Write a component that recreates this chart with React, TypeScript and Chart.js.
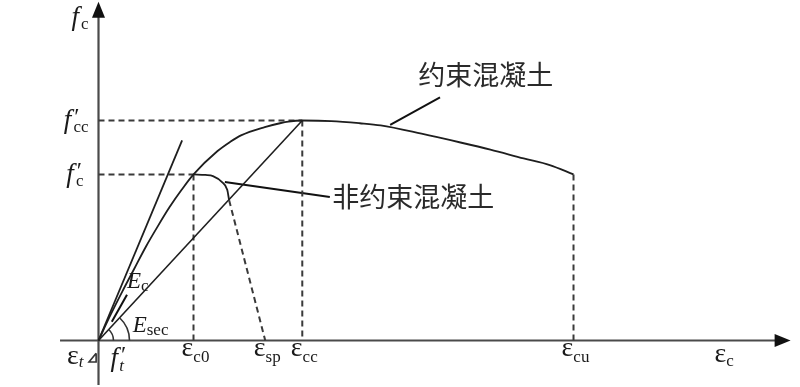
import React, { useEffect, useRef } from "react";
import { Chart, registerables } from "chart.js";

Chart.register(...registerables);

// ---- data (strain in ‰, stress in MPa) ----
const confinedStrain = [0, 0.25, 0.5, 0.75, 1.0, 1.25, 1.5, 1.75, 2.0, 2.5, 2.77, 3.0, 3.5, 3.82, 4.0, 4.29, 4.9, 5.5, 5.94, 6.8, 7.62, 8.25, 8.95, 9.5, 10.0];
const confinedStress = [0, 4.6, 8.9, 13.0, 17.1, 20.8, 24.3, 27.4, 30.2, 34.4, 36.1, 37.3, 38.8, 39.5, 39.8, 40.0, 39.9, 39.5, 39.1, 37.6, 36.0, 34.7, 33.1, 31.9, 30.2];

const unconfinedStrain = [2.0, 2.25, 2.41, 2.6, 2.71, 2.75];
const unconfinedStress = [30.2, 30.1, 29.9, 28.8, 27.4, 25.5];
const spallingStrain = [2.75, 3.51];
const spallingStress = [25.5, 0];

const tangentStrain = [0, 1.76];
const tangentStress = [0, 36.4];
const secantStrain = [0, 4.29];
const secantStress = [0, 40.0];

const tensionStrain = [-0.05, -0.2, -0.05, -0.05];
const tensionStress = [-2.3, -3.9, -3.9, -2.3];

// key values
const epsC0 = 2.0;
const epsSp = 3.51;
const epsCc = 4.29;
const epsCu = 10.0;
const fcPrime = 30.2;
const fccPrime = 40.0;
const fcuEnd = 30.2;

// tick labels
const xTickValues = [epsC0, epsSp, epsCc, epsCu];
const xTickSubs = ["c0", "sp", "cc", "cu"];
const yTickValues = [fccPrime, fcPrime];
const yTickSubs = ["cc", "c"];

// leader lines
const confinedLeaderStrain = [6.14, 7.19];
const confinedLeaderStress = [39.2, 44.2];
const unconfinedLeaderStrain = [2.66, 4.87];
const unconfinedLeaderStress = [28.8, 26.1];
const ecLeaderStrain = [0.28, 0.6];
const ecLeaderStress = [3.4, 8.3];

// annotation texts
const confinedLabel = "约束混凝土";
const unconfinedLabel = "非约束混凝土";

const pts = (xs: number[], ys: number[]) => xs.map((x, i) => ({ x, y: ys[i] }));

const SERIF = '"Liberation Serif", "DejaVu Serif", serif';
const CJK = '"Noto Sans CJK SC", "Noto Sans", sans-serif';

type Part = { t: string; size: number; italic?: boolean; dy?: number; dx?: number };

function drawRich(ctx: CanvasRenderingContext2D, parts: Part[], x: number, y: number, align: "left" | "center" | "right") {
  const fontOf = (p: Part) => `${p.italic ? "italic " : ""}${p.size}px ${SERIF}`;
  const widths = parts.map((p) => {
    ctx.font = fontOf(p);
    return ctx.measureText(p.t).width + (p.dx || 0);
  });
  const total = widths.reduce((a, b) => a + b, 0);
  let cur = align === "left" ? x : align === "center" ? x - total / 2 : x - total;
  ctx.textAlign = "left";
  ctx.textBaseline = "alphabetic";
  parts.forEach((p, i) => {
    ctx.font = fontOf(p);
    ctx.fillText(p.t, cur + (p.dx || 0), y + (p.dy || 0));
    cur += widths[i];
  });
}

const annotationPlugin = {
  id: "annot",
  beforeDatasetsDraw(chart: any) {
    const ctx: CanvasRenderingContext2D = chart.ctx;
    const xs = chart.scales.x;
    const ys = chart.scales.y;
    const ox = xs.getPixelForValue(0);
    const oy = ys.getPixelForValue(0);
    ctx.save();
    ctx.strokeStyle = "#4a4a4a";
    ctx.fillStyle = "#111";
    ctx.lineWidth = 2.2;
    // x axis
    const xl = xs.getPixelForValue(-0.81);
    const xr = xs.getPixelForValue(14.57);
    ctx.beginPath();
    ctx.moveTo(xl, oy);
    ctx.lineTo(xr - 10, oy);
    ctx.stroke();
    ctx.beginPath();
    ctx.moveTo(xr, oy);
    ctx.lineTo(xr - 16, oy - 6.5);
    ctx.lineTo(xr - 16, oy + 6.5);
    ctx.closePath();
    ctx.fill();
    // y axis
    const yb = ys.getPixelForValue(-8.1);
    const yt = ys.getPixelForValue(61.6);
    ctx.beginPath();
    ctx.moveTo(ox, yb);
    ctx.lineTo(ox, yt + 10);
    ctx.stroke();
    ctx.beginPath();
    ctx.moveTo(ox, yt);
    ctx.lineTo(ox - 6.5, yt + 16);
    ctx.lineTo(ox + 6.5, yt + 16);
    ctx.closePath();
    ctx.fill();
    ctx.restore();
  },
  afterDatasetsDraw(chart: any) {
    const ctx: CanvasRenderingContext2D = chart.ctx;
    const xs = chart.scales.x;
    const ys = chart.scales.y;
    const ox = xs.getPixelForValue(0);
    const oy = ys.getPixelForValue(0);
    ctx.save();
    // angle arcs between x axis and secant
    const sx = xs.getPixelForValue(secantStrain[1]) - ox;
    const sy = ys.getPixelForValue(secantStress[1]) - oy;
    const ang = Math.atan2(sy, sx);
    ctx.strokeStyle = "#333";
    ctx.lineWidth = 1.6;
    [15, 31].forEach((r) => {
      ctx.beginPath();
      ctx.arc(ox, oy, r, ang, 0);
      ctx.stroke();
    });

    ctx.fillStyle = "#1a1a1a";
    const EPS = 28;
    const SUB = 17;
    const FS = 27;
    const prime = (): Part => ({ t: "′", size: 24, dy: -4, dx: 3 });
    // x tick labels
    xTickValues.forEach((v, i) => {
      const px = xs.getPixelForValue(v) + 2;
      drawRich(ctx, [{ t: "ε", size: EPS }, { t: xTickSubs[i], size: SUB, dy: 6 }], px, oy + 16, "center");
    });
    // axis label εc
    drawRich(ctx, [{ t: "ε", size: EPS }, { t: "c", size: SUB, dy: 4 }], xs.getPixelForValue(13.17), oy + 22, "center");
    // εt and f't
    drawRich(ctx, [{ t: "ε", size: EPS }, { t: "t", size: SUB, italic: true, dy: 3 }], ox - 15, oy + 24, "right");
    drawRich(ctx, [{ t: "f", size: FS, italic: true }, prime(), { t: "t", size: SUB, italic: true, dy: 5, dx: -7 }], ox + 12, oy + 26, "left");
    // y tick labels
    yTickValues.forEach((v, i) => {
      const py = ys.getPixelForValue(v);
      drawRich(ctx, [{ t: "f", size: FS, italic: true }, prime(), { t: yTickSubs[i], size: SUB, dy: 4, dx: -6 }], ox - (i === 0 ? 10 : 15), py + 8, "right");
    });
    // axis label fc
    drawRich(ctx, [{ t: "f", size: FS, italic: true }, { t: "c", size: SUB, dy: 4, dx: 2 }], ox - 10, ys.getPixelForValue(57.4), "right");
    // Ec and Esec
    drawRich(ctx, [{ t: "E", size: 23, italic: true }, { t: "c", size: SUB, dy: 3 }], xs.getPixelForValue(0.6), ys.getPixelForValue(9.5), "left");
    drawRich(ctx, [{ t: "E", size: 23, italic: true }, { t: "sec", size: SUB, dy: 3 }], xs.getPixelForValue(0.72), ys.getPixelForValue(1.5), "left");
    // Chinese labels
    ctx.font = `27px ${CJK}`;
    ctx.textAlign = "left";
    ctx.textBaseline = "middle";
    ctx.fillStyle = "#2a2a2a";
    ctx.fillText(confinedLabel, xs.getPixelForValue(6.73), ys.getPixelForValue(48.3));
    ctx.fillText(unconfinedLabel, xs.getPixelForValue(4.92), ys.getPixelForValue(26.1));
    ctx.restore();
  },
};

export default function App() {
  const ref = useRef<HTMLCanvasElement | null>(null);
  useEffect(() => {
    if (!ref.current) return;
    const solid = (data: any[], extra: any = {}) => ({
      data,
      showLine: true,
      pointRadius: 0,
      borderColor: "#1e1e1e",
      borderWidth: 1.8,
      fill: false,
      ...extra,
    });
    const dashed = (data: any[]) => solid(data, { borderColor: "#3a3a3a", borderWidth: 2, borderDash: [6, 4] });
    const chart = new Chart(ref.current, {
      type: "scatter",
      data: {
        datasets: [
          solid(pts(confinedStrain, confinedStress), { cubicInterpolationMode: "monotone" }),
          solid(pts(unconfinedStrain, unconfinedStress), { cubicInterpolationMode: "monotone" }),
          dashed(pts(spallingStrain, spallingStress)),
          solid(pts(tangentStrain, tangentStress)),
          solid(pts(secantStrain, secantStress), { borderWidth: 1.6 }),
          dashed(pts([0, epsCc], [fccPrime, fccPrime])),
          dashed(pts([epsCc, epsCc], [fccPrime, 0])),
          dashed(pts([0, epsC0], [fcPrime, fcPrime])),
          dashed(pts([epsC0, epsC0], [fcPrime, 0])),
          dashed(pts([epsCu, epsCu], [fcuEnd, 0])),
          solid(pts(confinedLeaderStrain, confinedLeaderStress), { borderColor: "#111", borderWidth: 2 }),
          solid(pts(unconfinedLeaderStrain, unconfinedLeaderStress), { borderColor: "#111", borderWidth: 2 }),
          solid(pts(ecLeaderStrain, ecLeaderStress), { borderColor: "#111", borderWidth: 2 }),
          solid(pts(tensionStrain, tensionStress), { borderColor: "#333", borderWidth: 1.6 }),
        ],
      },
      options: {
        animation: false,
        responsive: false,
        layout: { padding: 0 },
        plugins: { legend: { display: false }, tooltip: { enabled: false } },
        events: [],
        scales: {
          x: { type: "linear", display: false, min: -2.0737, max: 14.768, bounds: "data" },
          y: { type: "linear", display: false, min: -8.455, max: 61.909, bounds: "data" },
        },
      },
      plugins: [annotationPlugin],
    } as any);
    return () => chart.destroy();
  }, []);
  return (
    <div style={{ position: "fixed", left: 0, top: 0, width: 800, height: 387, background: "#fff" }}>
      <canvas ref={ref} width={800} height={387} style={{ display: "block" }} />
    </div>
  );
}
